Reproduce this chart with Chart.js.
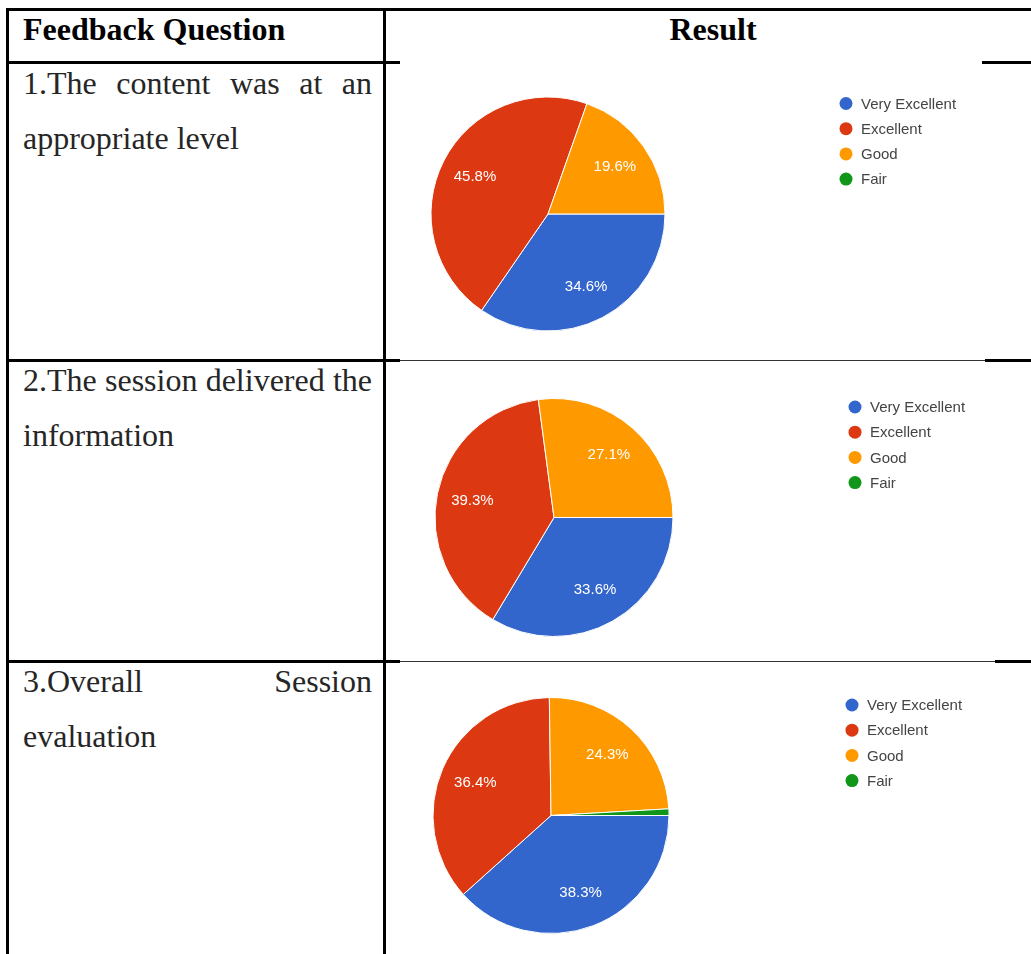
<!DOCTYPE html>
<html>
<head>
<meta charset="utf-8">
<script src="https://cdn.jsdelivr.net/npm/chart.js@4.4.0/dist/chart.umd.min.js"></script>
<style>
html,body{margin:0;padding:0;background:#fff;}
body{width:1031px;height:954px;position:relative;overflow:hidden;}
.ln{position:absolute;background:#000;}
.thin{position:absolute;background:#333;height:1px;}
.q{position:absolute;font-family:"Liberation Serif","Times New Roman",serif;font-size:32px;line-height:55px;color:#262626;text-align:justify;}
.h{position:absolute;font-family:"Liberation Serif","Times New Roman",serif;font-size:32px;font-weight:bold;line-height:40px;color:#000;white-space:nowrap;}
canvas{position:absolute;}
</style>
</head>
<body>
<!-- table rules -->
<div class="ln" style="left:6px;top:8px;width:1025px;height:3px;"></div>
<div class="ln" style="left:6px;top:8px;width:3px;height:946px;"></div>
<div class="ln" style="left:383px;top:8px;width:3px;height:946px;"></div>
<div class="ln" style="left:6px;top:61px;width:394px;height:3px;"></div>
<div class="ln" style="left:982px;top:61px;width:49px;height:3px;"></div>
<div class="ln" style="left:6px;top:359px;width:394px;height:3px;"></div>
<div class="thin" style="left:400px;top:360px;width:585px;"></div>
<div class="ln" style="left:985px;top:359px;width:46px;height:3px;"></div>
<div class="ln" style="left:6px;top:660px;width:394px;height:3px;"></div>
<div class="thin" style="left:400px;top:661px;width:595px;"></div>
<div class="ln" style="left:995px;top:660px;width:36px;height:3px;"></div>

<!-- header -->
<div class="h" style="left:23px;top:9px;">Feedback Question</div>
<div class="h" style="left:384px;top:9px;width:658px;text-align:center;">Result</div>

<!-- questions -->
<div class="q" style="left:23px;top:56px;width:349px;">1.The content was at an appropriate level</div>
<div class="q" style="left:23px;top:353px;width:349px;">2.The session delivered the information</div>
<div class="q" style="left:23px;top:654px;width:349px;">3.Overall Session evaluation</div>

<canvas id="c1" width="590" height="295" style="left:400px;top:64px;width:590px;height:295px;"></canvas>
<canvas id="c2" width="595" height="296" style="left:400px;top:363px;width:595px;height:296px;"></canvas>
<canvas id="c3" width="595" height="291" style="left:400px;top:663px;width:595px;height:291px;"></canvas>

<script>
// ---- data ----
const categories = ['Very Excellent', 'Excellent', 'Good', 'Fair'];
const q1Values = [34.6, 45.8, 19.6, 0];
const q2Values = [33.6, 39.3, 27.1, 0];
const q3Values = [38.3, 36.4, 24.3, 0.9];
const sliceColors = ['#3366cc', '#dc3912', '#ff9900', '#109618'];

// ---- plugins ----
const sliceLabels = {
  id: 'sliceLabels',
  afterDatasetsDraw(chart, args, opts) {
    const ctx = chart.ctx;
    const meta = chart.getDatasetMeta(0);
    const data = chart.data.datasets[0].data;
    const total = data.reduce((a, b) => a + b, 0);
    ctx.save();
    ctx.font = opts.font;
    ctx.fillStyle = opts.color;
    ctx.textAlign = 'center';
    ctx.textBaseline = 'middle';
    meta.data.forEach((arc, i) => {
      const v = data[i];
      if (!v || v / total < opts.minShare) return;
      const p = arc.getProps(['x', 'y', 'startAngle', 'endAngle', 'outerRadius'], true);
      const mid = (p.startAngle + p.endAngle) / 2;
      const d = p.outerRadius * opts.radiusFactor;
      ctx.fillText(v.toFixed(1) + '%', p.x + Math.cos(mid) * d, p.y + Math.sin(mid) * d);
    });
    ctx.restore();
  }
};

const sideLegend = {
  id: 'sideLegend',
  afterDraw(chart, args, opts) {
    const ctx = chart.ctx;
    const labels = chart.data.labels;
    const colors = chart.data.datasets[0].backgroundColor;
    ctx.save();
    ctx.font = opts.font;
    ctx.textAlign = 'left';
    ctx.textBaseline = 'middle';
    labels.forEach((t, i) => {
      const y = opts.y + i * opts.spacing;
      ctx.beginPath();
      ctx.arc(opts.x, y, opts.radius, 0, Math.PI * 2);
      ctx.fillStyle = colors[i];
      ctx.fill();
      ctx.fillStyle = opts.color;
      ctx.fillText(t, opts.textX, y + 1);
    });
    ctx.restore();
  }
};

function makePie(id, values, pos) {
  const el = document.getElementById(id);
  const half = pos.r + 0.5;
  return new Chart(el, {
    type: 'pie',
    data: {
      labels: categories,
      datasets: [{
        data: values,
        backgroundColor: sliceColors,
        borderColor: '#ffffff',
        borderWidth: 1,
        hoverOffset: 0,
        offset: 0
      }]
    },
    options: {
      responsive: false,
      animation: false,
      devicePixelRatio: 1,
      events: [],
      rotation: 90,
      layout: {
        padding: {
          left: pos.cx - half,
          right: el.width - (pos.cx + half),
          top: pos.cy - half,
          bottom: el.height - (pos.cy + half)
        }
      },
      plugins: {
        legend: { display: false },
        tooltip: { enabled: false },
        sliceLabels: {
          font: '15px "Liberation Sans", Arial, sans-serif',
          color: '#ffffff',
          radiusFactor: 0.7,
          minShare: 0.05
        },
        sideLegend: {
          x: pos.lx, textX: pos.tx, y: pos.ly, spacing: 25.2, radius: 6.5,
          font: '15px "Liberation Sans", Arial, sans-serif',
          color: '#444444'
        }
      }
    },
    plugins: [sliceLabels, sideLegend]
  });
}

makePie('c1', q1Values, { cx: 148, cy: 150, r: 117, lx: 446, tx: 461, ly: 39.5 });
makePie('c2', q2Values, { cx: 154, cy: 154.5, r: 119, lx: 455, tx: 470, ly: 44 });
makePie('c3', q3Values, { cx: 151, cy: 152.5, r: 118, lx: 452, tx: 467, ly: 42 });
</script>
</body>
</html>
